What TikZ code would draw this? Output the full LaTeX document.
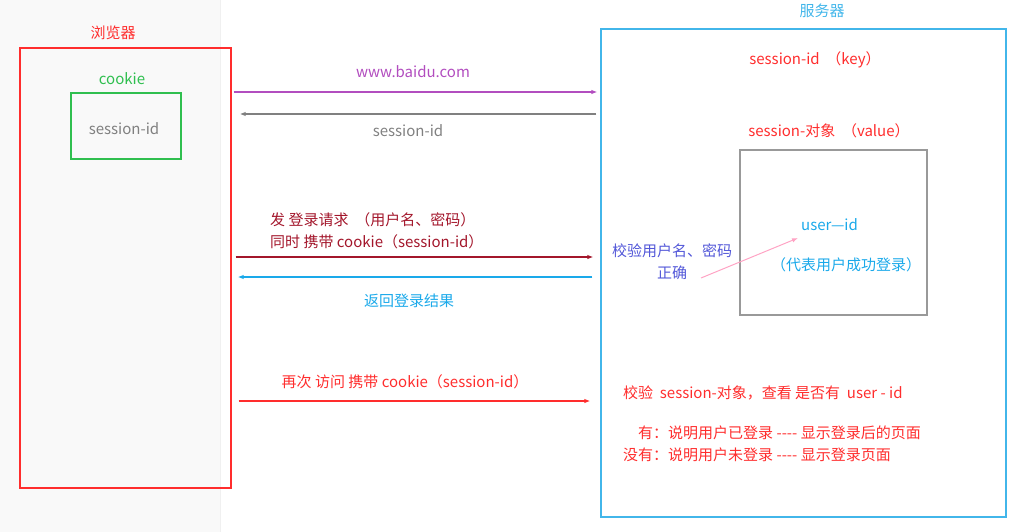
\documentclass[tikz,border=0pt]{standalone}
\usepackage{fontspec}
\setmainfont{Noto Sans CJK SC}
\usetikzlibrary{arrows.meta}
\definecolor{bred}{HTML}{FF2D2D}
\definecolor{cgreen}{HTML}{2FBF4F}
\definecolor{tgray}{HTML}{808080}
\definecolor{sblue}{HTML}{42B6EA}
\definecolor{upurple}{HTML}{B24DBF}
\definecolor{dred}{HTML}{A3162B}
\definecolor{ublue}{HTML}{1AA9EA}
\definecolor{cblue}{HTML}{5257D8}
\definecolor{lpink}{HTML}{FFA3C4}
\definecolor{leftbg}{HTML}{F9F9F9}
\begin{document}
\begin{tikzpicture}[x=1pt,y=-1pt,
    box/.style={draw,line width=1.3pt,inner sep=0pt},
    txt/.style={inner sep=0pt,font=\fontsize{15}{22}\selectfont},
    arr/.style={line width=1.3pt,-{Latex[length=6pt,width=4.5pt]}}]
\useasboundingbox (0,0) rectangle (1024,532);
\fill[leftbg] (0,0) rectangle (220,532);
\draw[gray!12] (220,0) -- (220,532);
% browser
\node[box,draw=bred,minimum width=211pt,minimum height=440pt] (browser) at (125.5,268) {};
\node[txt,bred] (blabel) at (113,33) {浏览器};
\node[txt,cgreen] (cklabel) at (122,79) {cookie};
\node[box,draw=cgreen,minimum width=110pt,minimum height=66pt] (cookie) at (126,126) {};
\node[txt,tgray] (sid) at (124,129) {session-id};
% server
\node[box,draw=sblue,minimum width=405pt,minimum height=488pt] (server) at (803.5,273) {};
\node[txt,sblue] (slabel) at (822,11) {服务器};
\node[txt,bred] (key) at (815,60) {session-id \ （key）};
\node[txt,bred] (value) at (829,131) {session-对象 \ （value）};
\node[box,draw=gray!80,minimum width=187pt,minimum height=165pt] (obj) at (833.5,232.5) {};
\node[txt,ublue] (user) at (829.5,225) {user—id};
\node[txt,ublue] (login) at (846,265) {（代表用户成功登录）};
\node[txt,cblue,align=center] (check) at (672,262) {校验用户名、密码\\正确};
\coordinate (p0) at (701,278);
\coordinate (p1) at (798,238);
\draw[arr,lpink,line width=1pt] (p0) -- (p1);
\node[txt,bred,anchor=west] (look) at (623,393) {校验 \ session-对象，查看 是否有 \ user - id};
\node[txt,bred,anchor=west] (yes) at (638,433) {有：说明用户已登录 -{}-{}-{}- 显示登录后的页面};
\node[txt,bred,anchor=west] (no) at (623,455) {没有：说明用户未登录 -{}-{}-{}- 显示登录页面};
% requests
\coordinate (y1) at (0,92);
\coordinate (y2) at (0,114);
\coordinate (y3) at (0,257);
\coordinate (y4) at (0,277);
\coordinate (y5) at (0,401);
\draw[arr,upurple,shorten <=2pt,shorten >=3pt] (browser.east |- y1) -- (server.west |- y1);
\node[txt,upurple] (url) at (413,72) {www.baidu.com};
\draw[arr,tgray,shorten <=4pt,shorten >=8pt] (server.west |- y2) -- (browser.east |- y2);
\node[txt,tgray] (back) at (408,131) {session-id};
\draw[arr,dred,shorten <=4pt,shorten >=7pt] (browser.east |- y3) -- (server.west |- y3);
\node[txt,dred,align=left,anchor=west] (req) at (270,231) {发 登录请求 \ （用户名、密码）\\同时 携带 cookie（session-id）};
\draw[arr,ublue,shorten <=8pt,shorten >=6pt] (server.west |- y4) -- (browser.east |- y4);
\node[txt,ublue] (result) at (409,301) {返回登录结果};
\draw[arr,bred,shorten <=7pt,shorten >=10pt] (browser.east |- y5) -- (server.west |- y5);
\node[txt,bred] (again) at (405,382) {再次 访问 携带 cookie（session-id）};
\end{tikzpicture}
\end{document}
